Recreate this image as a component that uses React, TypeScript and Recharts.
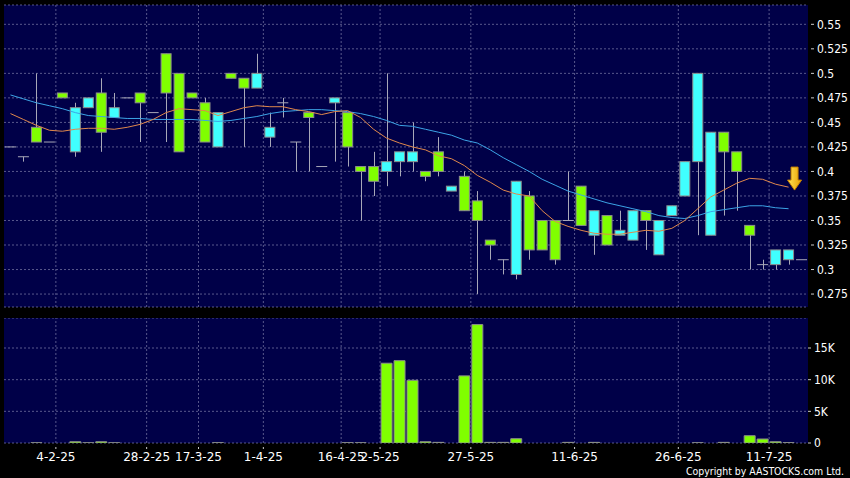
import React from 'react';
import {
  ComposedChart,
  Bar,
  Line,
  XAxis,
  YAxis,
  CartesianGrid,
  ReferenceLine,
  ReferenceDot,
} from 'recharts';

// daily candles (62 sessions)
const opens = [
  0.425, 0.415, 0.445, 0.43, 0.48, 0.42, 0.465, 0.48, 0.455, 0.475,
  0.48, 0.46, 0.52, 0.5, 0.48, 0.47, 0.425, 0.5, 0.495, 0.485,
  0.435, 0.47, 0.43, 0.46, 0.405, 0.47, 0.46, 0.405, 0.405, 0.4,
  0.41, 0.41, 0.4, 0.42, 0.38, 0.395, 0.37, 0.33, 0.31, 0.295,
  0.375, 0.35, 0.35, 0.35, 0.385, 0.335, 0.355, 0.335, 0.33, 0.36,
  0.315, 0.355, 0.375, 0.41, 0.335, 0.44, 0.42, 0.345, 0.305, 0.305,
  0.31, 0.31,
];
const highs = [
  0.425, 0.415, 0.5, 0.43, 0.48, 0.47, 0.475, 0.495, 0.48, 0.475,
  0.48, 0.46, 0.52, 0.5, 0.48, 0.475, 0.46, 0.5, 0.495, 0.52,
  0.46, 0.475, 0.43, 0.46, 0.405, 0.475, 0.46, 0.405, 0.42, 0.5,
  0.42, 0.45, 0.4, 0.435, 0.385, 0.4, 0.38, 0.33, 0.31, 0.39,
  0.38, 0.35, 0.35, 0.4, 0.385, 0.36, 0.355, 0.36, 0.36, 0.36,
  0.35, 0.365, 0.41, 0.5, 0.44, 0.44, 0.42, 0.345, 0.31, 0.32,
  0.32, 0.31,
];
const lows = [
  0.425, 0.41, 0.43, 0.43, 0.475, 0.415, 0.465, 0.42, 0.455, 0.475,
  0.43, 0.46, 0.43, 0.42, 0.475, 0.43, 0.425, 0.495, 0.425, 0.485,
  0.425, 0.455, 0.4, 0.4, 0.405, 0.41, 0.405, 0.35, 0.375, 0.385,
  0.395, 0.4, 0.39, 0.395, 0.38, 0.36, 0.275, 0.31, 0.295, 0.29,
  0.31, 0.32, 0.305, 0.35, 0.345, 0.315, 0.325, 0.335, 0.33, 0.32,
  0.315, 0.355, 0.375, 0.335, 0.335, 0.355, 0.36, 0.3, 0.3, 0.3,
  0.305, 0.31,
];
const closes = [
  0.425, 0.415, 0.43, 0.43, 0.475, 0.465, 0.475, 0.44, 0.465, 0.475,
  0.47, 0.46, 0.48, 0.42, 0.475, 0.43, 0.46, 0.495, 0.485, 0.5,
  0.445, 0.47, 0.43, 0.455, 0.405, 0.475, 0.425, 0.4, 0.39, 0.41,
  0.42, 0.42, 0.395, 0.4, 0.385, 0.36, 0.35, 0.325, 0.31, 0.39,
  0.32, 0.32, 0.31, 0.35, 0.345, 0.36, 0.325, 0.34, 0.36, 0.35,
  0.35, 0.365, 0.41, 0.5, 0.44, 0.42, 0.4, 0.335, 0.305, 0.32,
  0.32, 0.31,
];
const volumes = [
  0, 0, 30, 0, 0, 200, 30, 200, 30, 0,
  0, 0, 0, 0, 0, 0, 40, 0, 0, 0,
  0, 0, 0, 0, 0, 0, 40, 30, 0, 12600,
  13000, 9900, 200, 100, 0, 10600, 18700, 100, 100, 680,
  0, 0, 0, 100, 0, 100, 0, 0, 0, 0,
  0, 0, 0, 30, 0, 100, 0, 1150, 630, 200,
  50, 0,
];
// moving averages as drawn
const ma10 = [
  0.459, 0.453, 0.447, 0.442, 0.441, 0.443, 0.444, 0.444, 0.443, 0.445,
  0.448, 0.453, 0.46, 0.464, 0.463, 0.462, 0.457, 0.461, 0.465, 0.467,
  0.466, 0.466, 0.463, 0.461, 0.458, 0.461, 0.462, 0.455, 0.443, 0.434,
  0.429, 0.425, 0.422, 0.416, 0.413, 0.406, 0.396, 0.389, 0.381, 0.377,
  0.375, 0.36, 0.349, 0.344, 0.34, 0.337, 0.336, 0.336, 0.338, 0.34,
  0.339, 0.342, 0.35, 0.362, 0.374, 0.381, 0.388, 0.393, 0.392, 0.387,
  0.384, null,
];
const ma20 = [
  0.478, 0.474, 0.47, 0.467, 0.464, 0.46, 0.457, 0.456, 0.455, 0.454,
  0.454, 0.453, 0.453, 0.453, 0.453, 0.452, 0.451, 0.452, 0.454, 0.456,
  0.459, 0.461, 0.462, 0.463, 0.463, 0.462, 0.461, 0.459, 0.456, 0.452,
  0.447, 0.446, 0.443, 0.44, 0.437, 0.432, 0.429, 0.422, 0.414, 0.407,
  0.4, 0.392, 0.386, 0.38, 0.376, 0.372, 0.368, 0.365, 0.362, 0.359,
  0.355, 0.353, 0.352, 0.355, 0.359, 0.361, 0.363, 0.365, 0.365, 0.363,
  0.362, null,
];

const tickIndex = [4, 11, 15, 20, 26, 29, 36, 44, 52, 59];
const tickLabels = ['4-2-25', '28-2-25', '17-3-25', '1-4-25', '16-4-25', '2-5-25', '27-5-25', '11-6-25', '26-6-25', '11-7-25'];
const priceTicks = [0.275, 0.3, 0.325, 0.35, 0.375, 0.4, 0.425, 0.45, 0.475, 0.5, 0.525, 0.55];
const volumeTicks = [0, 5000, 10000, 15000];
const signal = { index: 60, price: 0.381 };

const PANEL = '#000048';
const GRID = '#58588c';
const GREEN = '#80ff00';
const CYAN = '#40ffff';
const EDGE = '#8c8c8c';
const WICK = '#a8a8b8';
const ORANGE = '#e0884c';
const BLUE = '#3ca4e6';
const FONT = "'DejaVu Sans Condensed', 'Liberation Sans Narrow', 'DejaVu Sans', sans-serif";

const data = opens.map((open, i) => ({
  i,
  open,
  high: highs[i],
  low: lows[i],
  close: closes[i],
  range: [lows[i], highs[i]],
  volume: volumes[i],
  ma10: ma10[i],
  ma20: ma20[i],
}));

const Candle = (props: any) => {
  const { x, y, width, height, payload } = props;
  const { open, high, low, close } = payload;
  const toY = (v: number) => (high === low ? y : y + ((high - v) / (high - low)) * height);
  const cx = Math.round(x + width / 2) + 0.5;
  const yo = toY(open);
  const yc = toY(close);
  const wick =
    high > low ? <line x1={cx} x2={cx} y1={y} y2={y + height} stroke={WICK} strokeWidth={1} /> : null;
  if (open === close) {
    return (
      <g>
        {wick}
        <line x1={x} x2={x + width} y1={yo} y2={yo} stroke={WICK} strokeWidth={1} />
      </g>
    );
  }
  return (
    <g>
      {wick}
      <rect
        x={x + 0.5}
        y={Math.min(yo, yc)}
        width={width - 1}
        height={Math.abs(yo - yc)}
        fill={close > open ? CYAN : GREEN}
        stroke={EDGE}
        strokeWidth={1}
      />
    </g>
  );
};

const Arrow = (props: any) => {
  const { cx, cy } = props;
  const x = cx + 6;
  const d = `M${x - 3.5},${cy - 23} L${x + 3.5},${cy - 23} L${x + 3.5},${cy - 10} L${x + 7},${cy - 10} L${x},${cy} L${x - 7},${cy - 10} L${x - 3.5},${cy - 10} Z`;
  return (
    <g>
      <defs>
        <linearGradient id="arrowFill" x1="0" y1="0" x2="1" y2="0">
          <stop offset="0" stopColor="#ffe458" />
          <stop offset="1" stopColor="#e8a000" />
        </linearGradient>
      </defs>
      <path d={d} fill="url(#arrowFill)" stroke="#c88400" strokeWidth={1} />
    </g>
  );
};

const PriceTick = (props: any) => {
  const { x, y, payload } = props;
  return (
    <g>
      <line x1={x + 3} x2={x + 6} y1={y} y2={y} stroke="#cccccc" />
      <text x={x + 9} y={y} dy="0.36em" fill="#ffffff" fontSize={12} fontFamily={FONT}>
        {String(payload.value)}
      </text>
    </g>
  );
};

const VolumeTick = (props: any) => {
  const { x, y, payload } = props;
  const v = payload.value;
  return (
    <g>
      <line x1={x} x2={x + 3} y1={y} y2={y} stroke="#cccccc" />
      <text x={x + 6} y={y} dy="0.36em" fill="#ffffff" fontSize={12} fontFamily={FONT}>
        {v === 0 ? '0' : `${v / 1000}K`}
      </text>
    </g>
  );
};

const DateTick = (props: any) => {
  const { x, y, payload } = props;
  const k = tickIndex.indexOf(payload.value);
  if (k < 0) return null;
  const left = x - (payload.offset || 0);
  return (
    <g>
      <line x1={left} x2={left} y1={y + 4} y2={y + 6} stroke="#cccccc" />
      <text x={left} y={y + 18} textAnchor="middle" fill="#ffffff" fontSize={12} fontFamily="'DejaVu Sans', sans-serif">
        {tickLabels[k]}
      </text>
    </g>
  );
};

const App: React.FC = () => {
  return (
    <div style={{ position: 'absolute', left: 0, top: 0, width: 850, height: 478, background: '#000', overflow: 'hidden' }}>
      <div style={{ position: 'absolute', left: 0, top: 0 }}>
        <ComposedChart width={850} height={312} data={data} margin={{ top: 5, right: 0, bottom: 5, left: 4 }} barCategoryGap={1}>
          <CartesianGrid fill={PANEL} stroke={GRID} strokeDasharray="2 2" vertical={false} />
          <XAxis dataKey="i" hide />
          <YAxis
            orientation="right"
            domain={[0.2618, 0.5697]}
            ticks={priceTicks}
            allowDataOverflow
            interval={0}
            width={42}
            axisLine={false}
            tickLine={false}
            tickSize={0}
            tickMargin={0}
            tick={<PriceTick />}
          />
          {tickIndex.map((i) => (
            <ReferenceLine key={i} x={i} position="start" stroke={GRID} strokeDasharray="2 2" />
          ))}
          <Bar dataKey="range" shape={<Candle />} isAnimationActive={false} />
          <Line dataKey="ma20" stroke={BLUE} strokeWidth={1} dot={false} activeDot={false} isAnimationActive={false} />
          <Line dataKey="ma10" stroke={ORANGE} strokeWidth={1} dot={false} activeDot={false} isAnimationActive={false} />
          <ReferenceDot x={signal.index} y={signal.price} shape={<Arrow />} />
        </ComposedChart>
      </div>
      <div style={{ position: 'absolute', left: 0, top: 318 }}>
        <ComposedChart width={850} height={160} data={data} margin={{ top: 0, right: 0, bottom: 0, left: 4 }} barCategoryGap={1}>
          <CartesianGrid fill={PANEL} stroke={GRID} strokeDasharray="2 2" vertical={false} />
          <XAxis
            dataKey="i"
            interval={0}
            height={35}
            axisLine={false}
            tickLine={false}
            tickSize={0}
            tickMargin={0}
            tick={<DateTick />}
          />
          <YAxis
            orientation="right"
            domain={[0, 19740]}
            ticks={volumeTicks}
            allowDataOverflow
            interval={0}
            width={42}
            axisLine={false}
            tickLine={false}
            tickSize={0}
            tickMargin={0}
            tick={<VolumeTick />}
          />
          {tickIndex.map((i) => (
            <ReferenceLine key={i} x={i} position="start" stroke={GRID} strokeDasharray="2 2" />
          ))}
          <Bar dataKey="volume" fill={GREEN} stroke={EDGE} strokeWidth={1} isAnimationActive={false} />
        </ComposedChart>
      </div>
      <svg width={850} height={478} style={{ position: 'absolute', left: 0, top: 0, pointerEvents: 'none' }}>
        <text x={686} y={475} fill="#ffffff" fontSize={11} fontFamily={FONT} textLength={158} lengthAdjust="spacingAndGlyphs">
          Copyright by AASTOCKS.com Ltd.
        </text>
      </svg>
    </div>
  );
};

export default App;
